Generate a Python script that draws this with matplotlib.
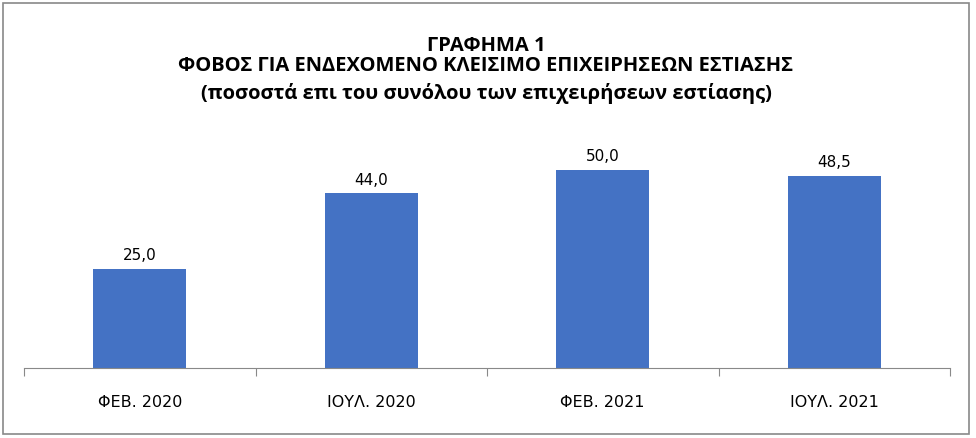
import matplotlib.pyplot as plt
from matplotlib.patches import Rectangle
import numpy as np

categories = ['ΦΕΒ. 2020', 'ΙΟΥΛ. 2020', 'ΦΕΒ. 2021', 'ΙΟΥΛ. 2021']
values = [25.0, 44.0, 50.0, 48.5]
title_lines = ['ΓΡΑΦΗΜΑ 1',
               'ΦΟΒΟΣ ΓΙΑ ΕΝΔΕΧΟΜΕΝΟ ΚΛΕΙΣΙΜΟ ΕΠΙΧΕΙΡΗΣΕΩΝ ΕΣΤΙΑΣΗΣ',
               '(ποσοστά επι του συνόλου των επιχειρήσεων εστίασης)']

W, H = 976, 439
fig = plt.figure(figsize=(W / 100, H / 100), dpi=100)

# outer frame
fig.patches.append(Rectangle((3 / W, 4 / H), 966 / W, 431 / H, transform=fig.transFigure,
                             fill=False, edgecolor='#898989', linewidth=1.2))

# plot area: x 24..950 px, baseline at y=369 px
ax = fig.add_axes([24 / W, (H - 369) / H, 926 / W, (369 - 131) / H])
x = np.arange(len(categories))
bars = ax.bar(x, values, width=0.40, color='#4472C4')
ax.set_xlim(-0.5, len(categories) - 0.5)
ax.set_ylim(0, 60)

for b, v in zip(bars, values):
    ax.text(b.get_x() + b.get_width() / 2, v + 1.6, f'{v:.1f}'.replace('.', ','),
            ha='center', va='bottom', fontsize=11, family='DejaVu Sans')

for s in ['top', 'right', 'left']:
    ax.spines[s].set_visible(False)
ax.spines['bottom'].set_color('#898989')
ax.set_yticks([])
ax.set_xticks(np.arange(-0.5, len(categories)), minor=False)
ax.set_xticklabels([])
ax.tick_params(axis='x', length=6, color='#898989', direction='out')
for xi, c in zip(x, categories):
    ax.text(xi, -(402 - 369) / 3.96, c, ha='center', va='center', fontsize=11.5,
            family='DejaVu Sans')

ys = [46, 66, 93]
for t, y in zip(title_lines, ys):
    fig.text(0.5 * (3 + 969) / W, 1 - y / H, t, ha='center', va='center',
             fontsize=14.5, fontweight='bold', family='Open Sans')

fig.savefig('out.png', dpi=100)
